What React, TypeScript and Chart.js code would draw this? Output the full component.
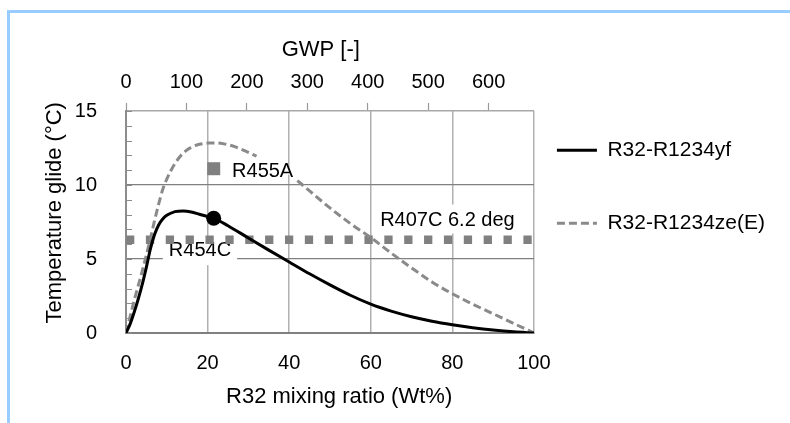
import React, { useEffect, useRef } from 'react';
import { Chart, registerables } from 'chart.js';

Chart.register(...registerables);

// ---- data ----
const SERIES_NAMES = ['R32-R1234yf', 'R32-R1234ze(E)'];

const YF_X = [0, 1, 2, 3, 4, 5, 6, 7, 8, 9, 10, 12, 14, 16, 18, 20, 22, 25, 30, 35, 40, 45, 50, 55, 60, 65, 70, 75, 80, 85, 90, 95, 100];
const YF_Y = [0, 0.6, 1.4, 2.3, 3.3, 4.45, 5.7, 6.65, 7.3, 7.7, 7.95, 8.2, 8.25, 8.18, 8.02, 7.87, 7.7, 7.25, 6.42, 5.6, 4.8, 4.0, 3.25, 2.55, 1.95, 1.48, 1.1, 0.8, 0.56, 0.36, 0.2, 0.08, 0];

const ZE_X = [0, 2, 4, 6, 7, 8, 9, 10, 12, 14, 16, 18, 20, 22, 24, 26, 28, 30, 32, 37, 42, 45, 50, 55, 60, 65, 70, 75, 80, 85, 90, 95, 100];
const ZE_Y = [0, 2.2, 4.2, 6.4, 7.6, 8.7, 9.7, 10.4, 11.45, 12.15, 12.55, 12.75, 12.83, 12.84, 12.78, 12.65, 12.45, 12.2, 11.95, null, 10.3, 9.6, 8.45, 7.4, 6.45, 5.4, 4.4, 3.45, 2.65, 1.95, 1.3, 0.65, 0];

const R454C_POINT = [21.5, 7.75];
const R455A_POINT = [21.5, 11.1];
const R407C_GLIDE = 6.3;
const R407C_SPAN = [0, 100];

const X_RANGE = [0, 100];
const X_STEP = 20;
const GWP_RANGE = [0, 675];
const GWP_STEP = 100;
const Y_RANGE = [0, 15];
const Y_STEP = 5;
const Y_MINOR_STEP = 1;

const NOTE_TEXT = ['R455A', 'R454C', 'R407C 6.2 deg'];
const NOTE_X = [26, 10.5, 62.3];
const NOTE_Y = [10.9, 5.6, 7.6];

// ---- styles ----
const FONT = '"Liberation Sans", Arial, sans-serif';
const NOTE_BOX = [
  [3, 2, 3, 2],
  [7, 6, 15, 6],
  [16, 3, 13, 4],
];

const pts = (xs: number[], ys: (number | null)[]) => xs.map((x, i) => ({ x, y: ys[i] }));

const notesPlugin = {
  id: 'notes',
  beforeDatasetsDraw(chart: any) {
    const { ctx, scales } = chart;
    const x = scales.x;
    const y = scales.y;
    ctx.save();
    // minor ticks on y axis (inside)
    ctx.strokeStyle = '#8c8c8c';
    ctx.lineWidth = 1;
    for (let v = Y_RANGE[0]; v <= Y_RANGE[1]; v += Y_MINOR_STEP) {
      const py = Math.round(y.getPixelForValue(v)) + 0.5;
      ctx.beginPath();
      ctx.moveTo(chart.chartArea.left, py);
      ctx.lineTo(chart.chartArea.left + 6, py);
      ctx.stroke();
    }
    // annotation labels
    ctx.font = `20px ${FONT}`;
    ctx.textBaseline = 'middle';
    ctx.textAlign = 'left';
    NOTE_TEXT.forEach((t, i) => {
      const px = x.getPixelForValue(NOTE_X[i]);
      const py = y.getPixelForValue(NOTE_Y[i]);
      const w = ctx.measureText(t).width;
      const [bt, br, bb, bl] = NOTE_BOX[i];
      ctx.fillStyle = '#ffffff';
      ctx.fillRect(px - bl, py - bt, w + bl + br, bt + bb);
      ctx.fillStyle = '#000000';
      ctx.fillText(t, px, py);
    });
    ctx.restore();
  },
};

export default function App() {
  const ref = useRef<HTMLCanvasElement>(null);

  useEffect(() => {
    if (!ref.current) return;
    Chart.defaults.font.family = FONT;
    Chart.defaults.color = '#000';
    const chart = new Chart(ref.current, {
      type: 'line',
      data: {
        datasets: [
          {
            label: SERIES_NAMES[0],
            data: pts(YF_X, YF_Y),
            borderColor: '#000000',
            backgroundColor: '#000000',
            borderWidth: 3,
            pointRadius: 0,
            cubicInterpolationMode: 'monotone',
          },
          {
            label: SERIES_NAMES[1],
            data: pts(ZE_X, ZE_Y),
            borderColor: '#8a8a8a',
            backgroundColor: '#8a8a8a',
            borderWidth: 3,
            borderDash: [8, 4],
            pointRadius: 0,
            cubicInterpolationMode: 'monotone',
          },
          {
            label: 'R454C',
            data: [{ x: R454C_POINT[0], y: R454C_POINT[1] }],
            showLine: false,
            pointRadius: 7.5,
            pointBackgroundColor: '#000000',
            pointBorderColor: '#000000',
            pointBorderWidth: 0,
          },
          {
            label: 'R455A',
            data: [{ x: R455A_POINT[0], y: R455A_POINT[1] }],
            showLine: false,
            pointStyle: 'rect',
            pointRadius: 9.2,
            pointBackgroundColor: '#808080',
            pointBorderColor: '#808080',
            pointBorderWidth: 0,
          },
          {
            label: 'R407C',
            data: R407C_SPAN.map((x) => ({ x, y: R407C_GLIDE })),
            borderColor: '#808080',
            borderWidth: 8.3,
            borderDash: [8.3, 11.57],
            borderCapStyle: 'butt',
            pointRadius: 0,
          },
        ],
      },
      options: {
        responsive: false,
        animation: false,
        devicePixelRatio: 1,
        events: [],
        layout: { padding: { left: 10, right: 15, top: 0, bottom: 20.5 } },
        plugins: {
          tooltip: { enabled: false },
          legend: {
            position: 'right',
            maxWidth: 320,
            labels: {
              usePointStyle: true,
              pointStyle: 'line',
              pointStyleWidth: 40,
              padding: 23,
              color: '#000',
              font: { size: 21, lineHeight: '50px' },
              generateLabels: (c: any) =>
                (Chart.defaults.plugins.legend.labels as any)
                  .generateLabels(c)
                  .filter((it: any) => it.datasetIndex < 2)
                  .map((it: any) => {
                    const ds = c.data.datasets[it.datasetIndex];
                    return {
                      ...it,
                      text: [it.text],
                      strokeStyle: ds.borderColor,
                      lineWidth: ds.borderWidth,
                      lineDash: ds.borderDash || [],
                    };
                  }),
            },
          },
        },
        scales: {
          x: {
            type: 'linear',
            position: 'bottom',
            min: X_RANGE[0],
            max: X_RANGE[1],
            afterFit: (s: any) => {
              s.height = 69.5;
            },
            ticks: { stepSize: X_STEP, padding: 18, color: '#000', font: { size: 20 } },
            grid: { color: '#b0b0b0', lineWidth: 1.5, drawTicks: false },
            border: { color: '#808080', width: 2 },
            title: {
              display: true,
              text: '   R32 mixing ratio (Wt%)',
              color: '#000',
              font: { size: 22, lineHeight: 0.5 },
              padding: { top: 0, bottom: 0 },
            },
          },
          x2: {
            type: 'linear',
            position: 'top',
            min: GWP_RANGE[0],
            max: GWP_RANGE[1],
            afterFit: (s: any) => {
              s.height = 111;
            },
            ticks: { stepSize: GWP_STEP, includeBounds: false, padding: 9, color: '#000', font: { size: 20 } },
            grid: { drawOnChartArea: false, drawTicks: true, tickLength: 8, tickColor: '#9a9a9a', tickWidth: 1.2 },
            border: { color: '#a8a8a8', width: 1.5 },
            title: {
              display: true,
              text: 'GWP [-]   ',
              color: '#000',
              font: { size: 22 },
              padding: { top: 36.8, bottom: 0 },
            },
          },
          y: {
            type: 'linear',
            position: 'left',
            min: Y_RANGE[0],
            max: Y_RANGE[1],
            afterFit: (s: any) => {
              s.width = 116;
            },
            ticks: { stepSize: Y_STEP, padding: 29, color: '#000', font: { size: 20 } },
            grid: {
              color: (c: any) =>
                c.tick && c.tick.value > Y_RANGE[0] && c.tick.value < Y_RANGE[1] ? '#808080' : 'rgba(0,0,0,0)',
              lineWidth: 1.3,
              drawTicks: false,
            },
            border: { color: '#8c8c8c', width: 2 },
            title: {
              display: true,
              text: '   Temperature glide (°C)',
              color: '#000',
              font: { size: 22 },
              padding: { top: 31.8, bottom: 0 },
            },
          },
        },
      } as any,
      plugins: [notesPlugin],
    } as any);
    return () => chart.destroy();
  }, []);

  return (
    <div style={{ position: 'absolute', left: 0, top: 0, width: 790, height: 423, background: '#fff', overflow: 'hidden' }}>
      <div
        style={{
          position: 'absolute',
          left: 7,
          top: 10,
          width: 800,
          height: 430,
          borderTop: '3px solid #99ccff',
          borderLeft: '3px solid #99ccff',
        }}
      />
      <canvas
        ref={ref}
        width={790}
        height={423}
        style={{ position: 'absolute', left: 0, top: 0, width: 790, height: 423 }}
      />
    </div>
  );
}
